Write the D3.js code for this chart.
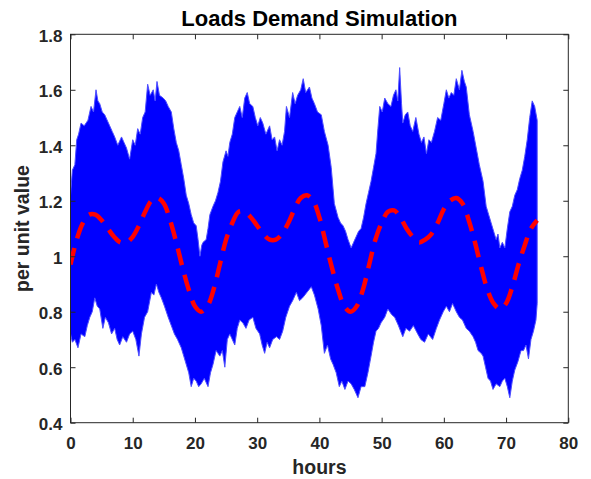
<!DOCTYPE html>
<html>
<head>
<meta charset="utf-8">
<script src="https://cdn.jsdelivr.net/npm/d3@7"></script>
<style>
  body { margin: 0; background: #fff; }
  svg text { font-family: "Liberation Sans", Arial, sans-serif; font-weight: bold; }
</style>
</head>
<body>
<div id="graf"></div>
<script>
// Datos
const xTicks = [0, 10, 20, 30, 40, 50, 60, 70, 80]
const yTicks = [0.4, 0.6, 0.8, 1, 1.2, 1.4, 1.6, 1.8]

// envolvente superior de la simulacion (hora, valor)
const upperHours = [0.0,0.3,0.7,1.0,1.3,1.7,2.2,2.8,3.3,3.7,4.1,4.4,4.7,5.1,5.5,6.3,6.7,7.1,7.6,8.2,8.6,9.0,9.5,10.0,10.4,10.8,11.2,11.6,12.0,12.4,12.8,13.3,13.6,13.9,14.3,14.9,15.3,15.7,16.2,16.6,17.0,17.4,17.8,18.2,18.6,19.0,19.4,19.8,20.2,20.5,20.8,21.1,21.3,21.8,22.1,22.4,22.9,23.3,23.7,24.1,24.5,25.0,25.3,25.6,26.0,26.4,26.8,27.2,27.6,28.0,28.4,28.8,29.3,29.7,30.1,30.5,30.9,31.4,32.0,32.4,32.8,33.2,33.6,34.0,34.4,34.7,35.2,35.7,36.1,36.5,37.0,37.4,37.8,38.4,38.8,39.2,39.7,40.3,40.8,41.4,41.9,42.4,43.0,43.4,43.8,44.2,44.6,45.1,45.5,45.9,46.3,46.7,47.1,47.5,47.9,48.3,48.7,49.1,49.4,49.7,50.1,50.5,51.0,51.5,51.9,52.3,52.6,52.9,53.2,53.4,53.8,54.2,54.6,55.0,55.5,56.0,56.4,56.8,57.2,57.6,58.0,58.5,59.0,59.5,60.0,60.4,60.8,61.2,61.6,62.0,62.5,62.9,63.3,63.6,64.1,64.7,65.2,65.7,66.3,66.8,67.2,67.6,68.0,68.4,68.7,69.0,69.4,69.8,70.2,70.6,71.0,71.4,71.8,72.2,72.6,73.0,73.4,73.8,74.2,74.6,75.0]
const upperValues = [1.22,1.31,1.33,1.42,1.44,1.48,1.47,1.49,1.54,1.52,1.60,1.56,1.55,1.52,1.51,1.47,1.45,1.43,1.40,1.43,1.41,1.39,1.35,1.42,1.40,1.46,1.44,1.50,1.52,1.62,1.58,1.60,1.56,1.63,1.58,1.57,1.56,1.54,1.52,1.46,1.41,1.38,1.33,1.28,1.22,1.19,1.15,1.12,1.11,1.06,1.00,1.04,1.05,1.06,1.10,1.15,1.18,1.20,1.23,1.27,1.34,1.38,1.36,1.41,1.44,1.50,1.52,1.54,1.50,1.57,1.59,1.55,1.54,1.50,1.47,1.50,1.48,1.44,1.47,1.42,1.43,1.38,1.42,1.40,1.45,1.54,1.50,1.59,1.55,1.58,1.60,1.64,1.59,1.61,1.57,1.55,1.52,1.51,1.45,1.40,1.32,1.19,1.14,1.12,1.11,1.09,1.06,1.03,1.05,1.07,1.09,1.10,1.14,1.19,1.23,1.27,1.32,1.37,1.46,1.54,1.52,1.57,1.55,1.54,1.58,1.60,1.56,1.68,1.55,1.48,1.51,1.52,1.47,1.45,1.50,1.44,1.41,1.43,1.37,1.42,1.41,1.45,1.50,1.49,1.55,1.60,1.57,1.59,1.58,1.64,1.60,1.67,1.63,1.61,1.51,1.45,1.39,1.33,1.27,1.18,1.15,1.12,1.09,1.06,1.08,1.03,1.05,1.03,1.10,1.16,1.18,1.22,1.24,1.28,1.31,1.36,1.42,1.50,1.56,1.54,1.49]

// envolvente inferior de la simulacion (hora, valor)
const lowerHours = [0.0,0.3,0.7,1.2,1.7,2.3,2.7,3.1,3.5,3.9,4.3,4.7,5.2,5.6,6.1,6.6,7.1,7.5,7.9,8.4,9.0,9.5,10.0,10.5,11.0,11.4,11.9,12.4,13.0,13.4,13.8,14.2,14.6,15.1,15.7,16.2,16.7,17.2,17.8,18.2,18.6,19.0,19.4,19.8,20.2,20.6,21.0,21.5,22.1,22.5,22.9,23.4,24.0,24.4,24.8,25.2,25.6,26.0,26.4,26.8,27.2,27.7,28.2,28.7,29.3,29.8,30.4,30.8,31.2,31.6,32.0,32.5,33.1,33.6,34.1,34.6,35.2,35.7,36.3,36.8,37.3,38.0,38.7,39.2,39.8,40.3,40.8,41.3,41.8,42.2,42.7,43.2,43.6,44.1,44.6,45.1,45.6,46.2,46.7,47.3,47.8,48.3,48.7,49.1,49.5,49.9,50.5,51.0,51.6,52.1,52.7,53.4,53.9,54.5,55.1,55.8,56.3,56.9,57.5,58.2,58.8,59.3,59.9,60.4,60.9,61.4,62.0,62.5,63.0,63.6,64.1,64.7,65.1,65.5,66.0,66.3,66.7,67.1,67.5,67.9,68.4,69.0,69.4,69.8,70.2,70.6,71.0,71.4,71.9,72.4,72.8,73.2,73.6,74.0,74.4,74.8,75.0]
const lowerValues = [0.72,0.69,0.70,0.67,0.72,0.71,0.75,0.78,0.80,0.85,0.82,0.81,0.74,0.78,0.76,0.72,0.74,0.70,0.68,0.71,0.69,0.72,0.73,0.70,0.64,0.72,0.78,0.80,0.87,0.86,0.90,0.87,0.85,0.82,0.78,0.75,0.72,0.70,0.67,0.64,0.61,0.58,0.53,0.56,0.55,0.53,0.54,0.56,0.53,0.58,0.61,0.66,0.64,0.66,0.60,0.70,0.72,0.70,0.68,0.74,0.77,0.76,0.74,0.77,0.78,0.74,0.72,0.68,0.65,0.69,0.67,0.70,0.71,0.70,0.73,0.78,0.82,0.84,0.87,0.84,0.85,0.87,0.89,0.86,0.81,0.75,0.65,0.68,0.63,0.61,0.58,0.53,0.55,0.52,0.55,0.54,0.52,0.49,0.53,0.53,0.58,0.64,0.69,0.73,0.74,0.76,0.78,0.81,0.79,0.78,0.75,0.71,0.74,0.73,0.75,0.72,0.70,0.69,0.72,0.70,0.74,0.77,0.80,0.82,0.80,0.83,0.80,0.78,0.77,0.74,0.73,0.71,0.69,0.66,0.65,0.64,0.60,0.56,0.55,0.52,0.54,0.53,0.55,0.56,0.53,0.49,0.55,0.59,0.62,0.66,0.66,0.68,0.63,0.70,0.73,0.77,0.83]

// demanda media (linea roja) por hora
const meanHours = d3.range(0, 76)
const meanValues = [0.97,1.06,1.12,1.15,1.15,1.13,1.10,1.07,1.05,1.05,1.07,1.11,1.16,1.20,1.21,1.19,1.13,1.05,0.96,0.88,0.82,0.80,0.82,0.88,0.97,1.06,1.12,1.16,1.16,1.14,1.11,1.08,1.06,1.06,1.08,1.12,1.17,1.21,1.22,1.20,1.14,1.05,0.96,0.88,0.82,0.80,0.82,0.88,0.97,1.06,1.12,1.16,1.165,1.14,1.10,1.07,1.05,1.06,1.08,1.12,1.17,1.20,1.21,1.19,1.13,1.05,0.96,0.88,0.83,0.81,0.83,0.89,0.97,1.04,1.10,1.13]

// Dimensiones
const anchoTotal = 591
const altoTotal = 479
const margins = { top: 34.3, right: 22.7, bottom: 56.3, left: 70.5 }
const ancho = anchoTotal - margins.left - margins.right
const alto = altoTotal - margins.top - margins.bottom

const svg = d3.select("#graf")
  .append("svg")
  .attr("width", anchoTotal)
  .attr("height", altoTotal)

const g = svg.append("g")
  .attr("transform", `translate(${margins.left}, ${margins.top})`)

// Escaladores
const x = d3.scaleLinear().domain([0, 80]).range([0, ancho])
const y = d3.scaleLinear().domain([0.4, 1.8]).range([alto, 0])

g.append("clipPath").attr("id", "clip")
  .append("rect").attr("width", ancho).attr("height", alto)

const plot = g.append("g").attr("clip-path", "url(#clip)")

// banda azul: superior de izquierda a derecha, inferior de vuelta
const banda = upperHours.map((h, i) => [h, upperValues[i]])
  .concat(lowerHours.map((h, i) => [h, lowerValues[i]]).reverse())

plot.append("path")
  .datum(banda)
  .attr("d", d3.line().x(d => x(d[0])).y(d => y(d[1])).curve(d3.curveLinearClosed))
  .attr("fill", "#0000ff")
  .attr("stroke", "#4d4dff")
  .attr("stroke-width", 1)

// linea roja discontinua
plot.append("path")
  .datum(meanHours.map((h, i) => [h, meanValues[i]]))
  .attr("d", d3.line().x(d => x(d[0])).y(d => y(d[1])).curve(d3.curveCatmullRom))
  .attr("fill", "none")
  .attr("stroke", "#ff0000")
  .attr("stroke-width", 4.5)
  .attr("stroke-dasharray", "17,10")

// Ejes
const colorEje = "#262626"
const estiloEje = (sel) => {
  sel.select(".domain").remove()
  sel.selectAll(".tick line").attr("stroke", colorEje)
  sel.selectAll(".tick text")
    .attr("fill", colorEje)
    .style("font-size", "17px")
}

g.append("g")
  .attr("transform", `translate(0, ${alto})`)
  .call(d3.axisBottom(x).tickValues(xTicks).tickSizeInner(-5).tickSizeOuter(0).tickPadding(14).tickFormat(d3.format("d")))
  .call(estiloEje)

g.append("g")
  .call(d3.axisTop(x).tickValues(xTicks).tickSizeInner(-5).tickSizeOuter(0).tickFormat(""))
  .call(estiloEje)

g.append("g")
  .call(d3.axisLeft(y).tickValues(yTicks).tickSizeInner(-5).tickSizeOuter(0).tickPadding(8).tickFormat(d => d3.format("")(+d.toFixed(1))))
  .call(estiloEje)
  .selectAll(".tick text").attr("dy", "0.4em")

g.append("g")
  .attr("transform", `translate(${ancho}, 0)`)
  .call(d3.axisRight(y).tickValues(yTicks).tickSizeInner(-5).tickSizeOuter(0).tickFormat(""))
  .call(estiloEje)

g.append("rect")
  .attr("width", ancho)
  .attr("height", alto)
  .attr("fill", "none")
  .attr("stroke", colorEje)
  .attr("stroke-width", 1)

// Titulos
svg.append("text")
  .attr("x", margins.left + ancho / 2)
  .attr("y", 26)
  .attr("text-anchor", "middle")
  .style("font-size", "22px")
  .attr("fill", "#000")
  .text("Loads Demand Simulation")

svg.append("text")
  .attr("x", margins.left + ancho / 2)
  .attr("y", 474)
  .attr("text-anchor", "middle")
  .style("font-size", "19.5px")
  .attr("fill", colorEje)
  .text("hours")

svg.append("text")
  .attr("transform", `translate(29, ${margins.top + alto / 2}) rotate(-90)`)
  .attr("text-anchor", "middle")
  .style("font-size", "19.5px")
  .attr("fill", colorEje)
  .text("per unit value")
</script>
</body>
</html>
